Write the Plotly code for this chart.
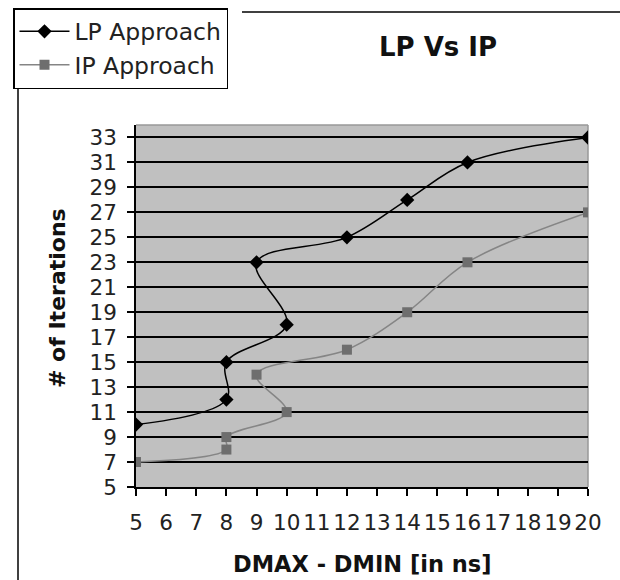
import plotly.graph_objects as go

# Data
lp_x = [5, 8, 8, 10, 9, 12, 14, 16, 20]
lp_y = [10, 12, 15, 18, 23, 25, 28, 31, 33]
ip_x = [5, 8, 8, 10, 9, 12, 14, 16, 20]
ip_y = [7, 8, 9, 11, 14, 16, 19, 23, 27]
x_ticks = list(range(5, 21))
y_ticks = list(range(5, 34, 2))

W, H = 620, 580
L, R, T, B = 136, 32, 125, 93
pw, ph = W - L - R, H - T - B


def px(x):
    return (x - L) / pw


def py(y):
    return (H - B - y) / ph


FONT = "DejaVu Sans, sans-serif"

fig = go.Figure()
fig.add_trace(go.Scatter(
    x=lp_x, y=lp_y, mode="lines+markers", name="LP Approach",
    line=dict(color="black", width=1.5, shape="spline", smoothing=1),
    marker=dict(symbol="diamond", size=11, color="black"),
))
fig.add_trace(go.Scatter(
    x=ip_x, y=ip_y, mode="lines+markers", name="IP Approach",
    line=dict(color="#858585", width=1.5, shape="spline", smoothing=1),
    marker=dict(symbol="square", size=10, color="#6e6e6e"),
))

fig.update_layout(
    width=W, height=H,
    margin=dict(l=L, r=R, t=T, b=B, pad=0, autoexpand=False),
    paper_bgcolor="white",
    plot_bgcolor="#c0c0c0",
    font=dict(family=FONT, color="black", size=21),
    showlegend=True,
    legend=dict(
        xref="container", yref="container",
        x=13 / W, y=1 - 8 / H, xanchor="left", yanchor="top",
        bgcolor="white", bordercolor="black", borderwidth=1.5,
        font=dict(size=23.5, family=FONT, color="#222"),
        itemwidth=50, tracegroupgap=0,
    ),
    xaxis=dict(
        range=[5, 20], tickmode="array", tickvals=x_ticks,
        ticktext=[str(v) for v in x_ticks], tickangle=0,
        showgrid=False, zeroline=False,
        showline=True, linecolor="black", linewidth=1.5,
        ticks="outside", ticklen=7, tickcolor="black", tickwidth=1.5,
        tickfont=dict(size=21.5, color="#222"), ticklabelstandoff=8,
        automargin=False,
    ),
    yaxis=dict(
        range=[5, 34], tickmode="array", tickvals=y_ticks,
        ticktext=[str(v) for v in y_ticks],
        showgrid=True, gridcolor="black", gridwidth=1.8, zeroline=False,
        showline=True, linecolor="black", linewidth=1.5,
        ticks="outside", ticklen=7, tickcolor="black", tickwidth=1.5,
        tickfont=dict(size=21.5, color="#222"), ticklabelstandoff=6,
        automargin=False,
    ),
    shapes=[
        # plot-area border (light grey on top/right)
        dict(type="line", xref="paper", yref="paper", x0=0, x1=1, y0=1, y1=1,
             line=dict(color="#999999", width=1.5), layer="below"),
        dict(type="line", xref="paper", yref="paper", x0=1, x1=1, y0=0, y1=1,
             line=dict(color="#999999", width=1.5), layer="below"),
        # chart-area border
        dict(type="line", xref="paper", yref="paper",
             x0=px(242), x1=px(622), y0=py(12), y1=py(12),
             line=dict(color="black", width=1.5)),
        dict(type="line", xref="paper", yref="paper",
             x0=px(18), x1=px(18), y0=py(88), y1=py(582),
             line=dict(color="black", width=1.5)),
    ],
    annotations=[
        dict(text="<b>LP Vs IP</b>", xref="paper", yref="paper",
             x=px(438), y=py(47), showarrow=False,
             xanchor="center", yanchor="middle",
             font=dict(size=26, family=FONT, color="#111")),
        dict(text="<b>DMAX - DMIN [in ns]</b>", xref="paper", yref="paper",
             x=px(362), y=py(564), showarrow=False,
             xanchor="center", yanchor="middle",
             font=dict(size=22.5, family=FONT, color="#111")),
        dict(text="<b># of Iterations</b>", xref="paper", yref="paper",
             x=px(57), y=py(298), showarrow=False, textangle=-90,
             xanchor="center", yanchor="middle",
             font=dict(size=22, family=FONT, color="#111")),
    ],
)

fig.write_html("out.html")
